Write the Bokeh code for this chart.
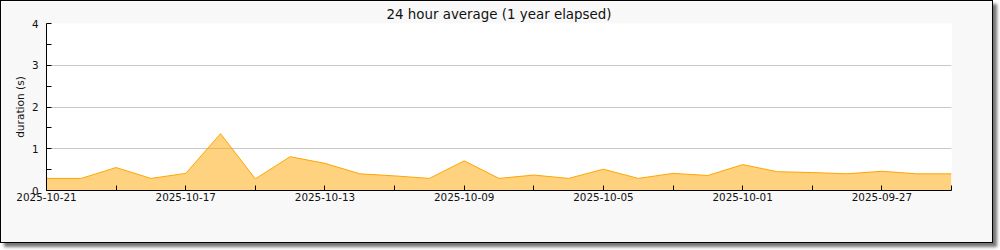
import pandas as pd
from bokeh.plotting import figure
from bokeh.models import Range1d, FixedTicker, DatetimeTickFormatter, ColumnDataSource
from bokeh.embed import file_html
from bokeh.resources import INLINE

# ---- data ----
dates = ["2025-10-21", "2025-10-20", "2025-10-19", "2025-10-18", "2025-10-17",
         "2025-10-16", "2025-10-15", "2025-10-14", "2025-10-13", "2025-10-12",
         "2025-10-11", "2025-10-10", "2025-10-09", "2025-10-08", "2025-10-07",
         "2025-10-06", "2025-10-05", "2025-10-04", "2025-10-03", "2025-10-02",
         "2025-10-01", "2025-09-30", "2025-09-29", "2025-09-28", "2025-09-27",
         "2025-09-26", "2025-09-25"]
durations = [0.29, 0.29, 0.55, 0.29, 0.41,
             1.36, 0.28, 0.81, 0.65, 0.40,
             0.35, 0.29, 0.71, 0.29, 0.37,
             0.29, 0.51, 0.29, 0.41, 0.36,
             0.62, 0.45, 0.43, 0.40, 0.46,
             0.40, 0.40]
x_major_ticks = ["2025-10-21", "2025-10-17", "2025-10-13", "2025-10-09",
                 "2025-10-05", "2025-10-01", "2025-09-27"]
x_minor_ticks = ["2025-10-19", "2025-10-15", "2025-10-11", "2025-10-07",
                 "2025-10-03", "2025-09-29", "2025-09-25"]
y_major_ticks = [0, 1, 2, 3, 4]
y_minor_ticks = [0.5, 1.5, 2.5, 3.5]
x_start, x_end = "2025-10-21", "2025-09-25"
y_start, y_end = 0, 4
title_text = "24 hour average (1 year elapsed)"
y_label = "duration (s)"


def ms(s):
    return pd.Timestamp(s).value / 1e6


src = ColumnDataSource(dict(
    x=pd.to_datetime(dates),
    y=durations,
    base=[0] * len(durations),
))

FONT = "DejaVu Sans"

p = figure(width=993, height=243, output_backend="svg", toolbar_location=None,
           x_axis_type="datetime",
           x_range=Range1d(start=pd.Timestamp(x_start), end=pd.Timestamp(x_end)),
           y_range=Range1d(start=y_start, end=y_end),
           min_border_left=45, min_border_right=43, min_border_top=22,
           min_border_bottom=54)

p.styles = {"border": "1px solid #000000", "box-shadow": "4px 4px 3px #777777"}
p.border_fill_color = "#f8f8f8"
p.background_fill_color = "#ffffff"
p.outline_line_color = None

p.title.text = title_text
p.title.align = "center"
p.title.text_font = FONT
p.title.text_font_size = "13.4px"
p.title.text_font_style = "normal"
p.title.text_color = "#111111"
p.title.standoff = 4

p.varea(x="x", y1="base", y2="y", source=src, fill_color="orange", fill_alpha=0.5)
p.line(x="x", y="y", source=src, line_color="orange", line_width=1)

p.xgrid.visible = False
p.ygrid.grid_line_color = "#c8c8c8"
p.ygrid.grid_line_width = 1

xa = p.xaxis[0]
xa.ticker = FixedTicker(ticks=[ms(d) for d in x_major_ticks],
                        minor_ticks=[ms(d) for d in x_minor_ticks])
fmt = "%Y-%m-%d"
xa.formatter = DatetimeTickFormatter(microseconds=fmt, milliseconds=fmt, seconds=fmt,
                                     minsec=fmt, minutes=fmt, hourmin=fmt, hours=fmt,
                                     days=fmt, months=fmt, years=fmt)
ya = p.yaxis[0]
ya.ticker = FixedTicker(ticks=y_major_ticks, minor_ticks=y_minor_ticks)
ya.axis_label = y_label
ya.axis_label_text_font = FONT
ya.axis_label_text_font_size = "10.6px"
ya.axis_label_text_font_style = "normal"
ya.axis_label_text_color = "#111111"
ya.axis_label_standoff = 3

for ax in (xa, ya):
    ax.axis_line_color = "#000000"
    ax.axis_line_width = 1
    ax.major_tick_in = 5
    ax.major_tick_out = 0
    ax.minor_tick_in = 5
    ax.minor_tick_out = 0
    ax.major_tick_line_color = "#000000"
    ax.minor_tick_line_color = "#000000"
    ax.major_label_text_font = FONT
    ax.major_label_text_font_size = "10.4px"
    ax.major_label_text_color = "#111111"

xa.major_label_standoff = 2
ya.major_label_standoff = 8

open("out.html", "w").write(file_html(p, INLINE))
